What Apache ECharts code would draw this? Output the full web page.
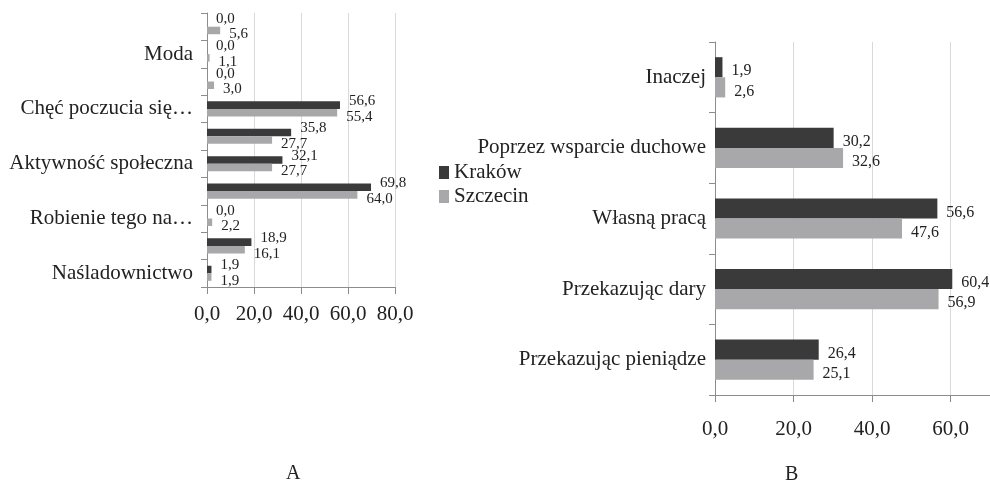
<!DOCTYPE html>
<html>
<head>
<meta charset="utf-8">
<script src="https://cdn.jsdelivr.net/npm/echarts@6/dist/echarts.min.js"></script>
<style>html,body{margin:0;padding:0;background:#fff}#c{width:990px;height:485px}</style>
</head>
<body>
<div id="c"></div>
<script>
// Chart A (bottom to top)
const categoriesA = ['Naśladownictwo', '', 'Robienie tego na…', '', 'Aktywność społeczna', '', 'Chęć poczucia się…', '', 'Moda', ''];
const krakowA = [1.9, 18.9, 0.0, 69.8, 32.1, 35.8, 56.6, 0.0, 0.0, 0.0];
const szczecinA = [1.9, 16.1, 2.2, 64.0, 27.7, 27.7, 55.4, 3.0, 1.1, 5.6];
// Chart B (bottom to top)
const categoriesB = ['Przekazując pieniądze', 'Przekazując dary', 'Własną pracą', 'Poprzez wsparcie duchowe', 'Inaczej'];
const krakowB = [26.4, 60.4, 56.6, 30.2, 1.9];
const szczecinB = [25.1, 56.9, 47.6, 32.6, 2.6];
const seriesNames = ['Kraków', 'Szczecin'];
const xRangeA = [0, 80, 20];   // min, max, interval
const xRangeB = [0, 70, 20];   // axis runs off the right edge of the picture
const panelLabels = ['A', 'B'];

const FONT = 'Liberation Serif';
const TXT = '#222';
const DARK = '#3a3a3a';
const LIGHT = '#a8a8aa';
const AXIS = '#8c8c8c';
const GRIDC = '#d9d9d9';
const fmt = v => Number(v).toFixed(1).replace('.', ',');

const chart = echarts.init(document.getElementById('c'));

function xAxisFor(gi, r, margin, showMax) {
  return {
    type: 'value', gridIndex: gi, min: r[0], max: r[1], interval: r[2],
    axisLine: {show: true, lineStyle: {color: AXIS, width: 1}},
    axisTick: {show: true, length: 7, lineStyle: {color: AXIS}},
    splitLine: {show: true, lineStyle: {color: GRIDC, width: 1}},
    axisLabel: {color: TXT, fontFamily: FONT, fontSize: 21, margin: margin, formatter: fmt, showMaxLabel: showMax}
  };
}
function yAxisFor(gi, cats, labelExtra) {
  return {
    type: 'category', gridIndex: gi, data: cats,
    axisLine: {show: true, lineStyle: {color: AXIS, width: 1}},
    axisTick: {show: true, length: 6, interval: 0, lineStyle: {color: AXIS}},
    splitLine: {show: false},
    axisLabel: Object.assign({color: TXT, fontFamily: FONT, fontSize: 21, interval: 0}, labelExtra)
  };
}
function barSeries(name, gi, data, color, gap, fs, dy) {
  return {
    name: name, type: 'bar', xAxisIndex: gi, yAxisIndex: gi, data: data,
    barGap: '0%', barCategoryGap: gap,
    itemStyle: {color: color},
    label: {show: true, position: 'right', distance: 9, offset: [0, dy], color: TXT,
      fontFamily: FONT, fontSize: fs, formatter: p => fmt(p.value)},
    emphasis: {disabled: true}, animation: false
  };
}

chart.setOption({
  animation: false,
  grid: [
    {left: 207, top: 13, width: 188, height: 274},
    {left: 715, top: 42, right: 0, height: 353}
  ],
  xAxis: [xAxisFor(0, xRangeA, 17, true), xAxisFor(1, xRangeB, 24, false)],
  yAxis: [
    yAxisFor(0, categoriesA, {margin: 14}),
    yAxisFor(1, categoriesB, {margin: 9, padding: [0, 0, 28, 0]})
  ],
  legend: {
    orient: 'vertical', left: 434, top: 157, itemWidth: 10, itemHeight: 13, itemGap: 3,
    data: seriesNames, icon: 'rect',
    textStyle: {color: TXT, fontFamily: FONT, fontSize: 21}
  },
  series: [
    barSeries(seriesNames[0], 0, krakowA, DARK, '45%', 15, -4),
    barSeries(seriesNames[1], 0, szczecinA, LIGHT, '45%', 15, 4),
    barSeries(seriesNames[0], 1, krakowB, DARK, '43%', 16, 4),
    barSeries(seriesNames[1], 1, szczecinB, LIGHT, '43%', 16, 4)
  ],
  graphic: [
    {type: 'text', left: 286, top: 464, style: {text: panelLabels[0], font: '20px "Liberation Serif"', fill: TXT}},
    {type: 'text', left: 785, top: 465, style: {text: panelLabels[1], font: '20px "Liberation Serif"', fill: TXT}}
  ]
});
</script>
</body>
</html>
